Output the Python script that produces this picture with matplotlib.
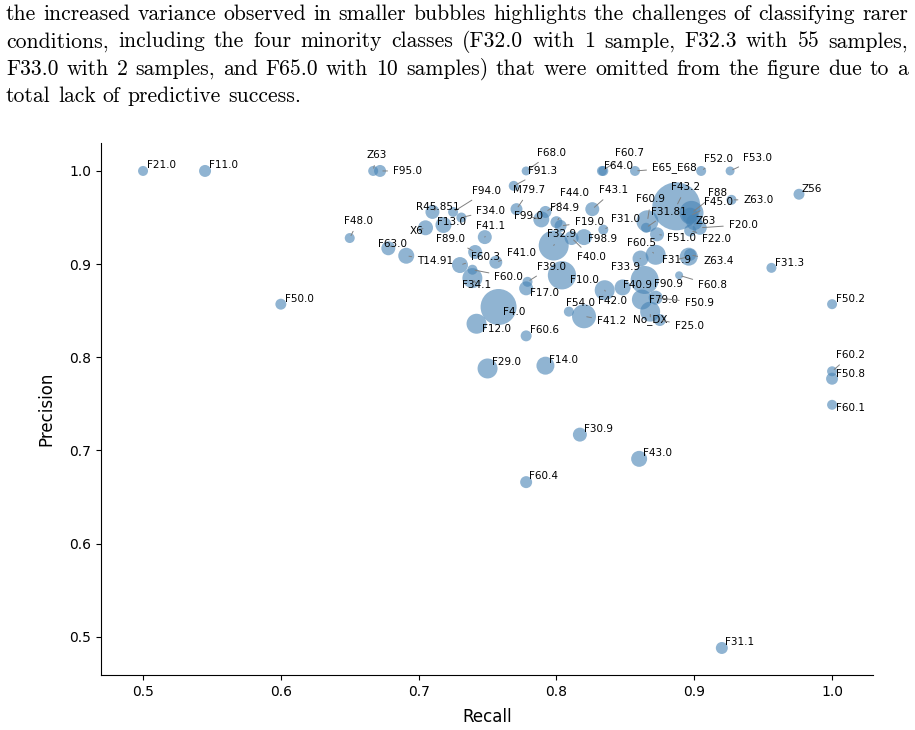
import numpy as np
import matplotlib
matplotlib.use("Agg")
import matplotlib.pyplot as plt

# class labels, recall / precision per class and (approximate) support
labels = ["F21.0", "F11.0", "Z63", "F95.0", "F68.0", "F91.3", "F60.7", "F64.0", "E65_E68", "F52.0",
          "F53.0", "F94.0", "M79.7", "F44.0", "F43.1", "F43.2", "F88", "F45.0", "Z63.0", "Z56",
          "R45.851", "F34.0", "F84.9", "F60.9", "F31.81", "F99.0", "F13.0", "F19.0", "F31.0", "X6",
          "F41.1", "F48.0", "F63.0", "T14.91", "F89.0", "F60.3", "F41.0", "F60.0", "F34.1", "F39.0",
          "F17.0", "F10.0", "F32.9", "F40.0", "F98.9", "F60.5", "F33.9", "F51.0", "F22.0", "Z63",
          "F20.0", "F31.9", "Z63.4", "F60.8", "F31.3", "F40.9", "F90.9", "F42.0", "F79.0", "F50.9",
          "No_DX", "F25.0", "F54.0", "F41.2", "F4.0", "F12.0", "F60.6", "F50.0", "F50.2", "F60.2",
          "F50.8", "F60.1", "F29.0", "F14.0", "F30.9", "F43.0", "F60.4", "F31.1"]

recall = [0.500, 0.545, 0.667, 0.672, 0.778, 0.769, 0.833, 0.834, 0.857, 0.905,
          0.926, 0.725, 0.771, 0.792, 0.826, 0.887, 0.898, 0.897, 0.927, 0.976,
          0.710, 0.731, 0.800, 0.866, 0.865, 0.789, 0.718, 0.803, 0.834, 0.705,
          0.748, 0.650, 0.678, 0.691, 0.741, 0.730, 0.756, 0.739, 0.739, 0.779,
          0.778, 0.804, 0.798, 0.811, 0.820, 0.872, 0.861, 0.873, 0.897, 0.900,
          0.904, 0.896, 0.897, 0.889, 0.956, 0.848, 0.864, 0.835, 0.862, 0.872,
          0.868, 0.875, 0.809, 0.820, 0.758, 0.742, 0.778, 0.600, 1.000, 1.000,
          1.000, 1.000, 0.750, 0.792, 0.817, 0.860, 0.778, 0.920]

precision = [1.000, 1.000, 1.000, 1.000, 1.000, 0.984, 1.000, 1.000, 1.000, 1.000,
             1.000, 0.956, 0.959, 0.956, 0.959, 0.962, 0.955, 0.952, 0.969, 0.975,
             0.956, 0.950, 0.945, 0.946, 0.939, 0.948, 0.942, 0.941, 0.937, 0.939,
             0.929, 0.928, 0.917, 0.909, 0.913, 0.899, 0.902, 0.894, 0.885, 0.881,
             0.874, 0.888, 0.920, 0.928, 0.929, 0.910, 0.906, 0.932, 0.936, 0.945,
             0.939, 0.908, 0.910, 0.888, 0.896, 0.875, 0.883, 0.872, 0.862, 0.864,
             0.849, 0.840, 0.849, 0.844, 0.854, 0.836, 0.823, 0.857, 0.857, 0.785,
             0.777, 0.749, 0.788, 0.791, 0.717, 0.691, 0.666, 0.488]

support = [25, 36, 25, 36, 20, 25, 25, 25, 25, 25,
           20, 25, 36, 36, 49, 576, 144, 64, 25, 30,
           49, 25, 36, 121, 25, 64, 64, 36, 25, 56,
           49, 25, 49, 64, 49, 64, 42, 25, 100, 25,
           49, 200, 225, 49, 64, 100, 64, 49, 36, 64,
           49, 81, 36, 16, 25, 64, 196, 100, 100, 49,
           100, 36, 25, 144, 324, 100, 30, 30, 25, 25,
           36, 25, 100, 81, 49, 64, 36, 36]

# where each label sits relative to its bubble (pixels)
label_offsets = [(4, 6), (4, 6), (-7, 16), (13, 0), (11, 18), (14, 15), (13, 18), (1, 5), (17, 3), (3, 12),
                 (13, 13), (19, 21), (-3, 19), (15, 19), (7, 19), (-5, 19), (16, 20), (14, 14), (12, 0), (3, 5),
                 (-16, 5), (15, 7), (-6, 14), (-11, 22), (5, 16), (-27, 3), (-6, 3), (14, 4), (8, 11), (-16, -3),
                 (-9, 11), (-6, 17), (-10, 4), (11, -5), (-39, 13), (11, 8), (11, 9), (22, -7), (-10, -7), (9, 15),
                 (4, -5), (8, -5), (-7, 11), (5, -19), (4, -2), (-29, 12), (-30, -8), (10, -4), (12, -8), (1, 1),
                 (29, 3), (-27, -3), (13, -6), (19, -10), (4, 5), (0, 2), (9, -4), (-7, -11), (7, 0), (29, -5),
                 (-17, -8), (15, -6), (-3, 9), (13, -5), (4, -5), (5, -5), (4, 6), (4, 5), (4, 5), (4, 16),
                 (4, 5), (4, -3), (4, 6), (4, 6), (4, 6), (4, 6), (3, 6), (3, 6)]

paragraph = [
    "the increased variance observed in smaller bubbles highlights the challenges of classifying rarer",
    "conditions, including the four minority classes (F32.0 with 1 sample, F32.3 with 55 samples,",
    "F33.0 with 2 samples, and F65.0 with 10 samples) that were omitted from the figure due to a",
    "total lack of predictive success.",
]

W, H = 915, 730
fig = plt.figure(figsize=(W / 100, H / 100), dpi=100)
ax = fig.add_axes([101 / W, 1 - 675 / H, (873 - 101) / W, (675 - 143) / H])

ax.scatter(recall, precision, s=np.array(support) * 2.07, color="steelblue", alpha=0.6, linewidths=0)

for name, x, y, (dx, dy) in zip(labels, recall, precision, label_offsets):
    arrow = None
    if np.hypot(dx, dy) > 10:
        arrow = dict(arrowstyle="-", color="grey", lw=0.7)
    ax.annotate(name, (x, y), xytext=(dx, dy), textcoords="offset pixels",
                fontsize=7.5, ha="left", va="center", arrowprops=arrow)

ax.set_xlim(0.4695, 1.0297)
ax.set_ylim(0.459, 1.030)
ax.set_xticks([0.5, 0.6, 0.7, 0.8, 0.9, 1.0])
ax.set_yticks([0.5, 0.6, 0.7, 0.8, 0.9, 1.0])
ax.tick_params(labelsize=10)
ax.set_xlabel("Recall", fontsize=12, labelpad=7)
ax.set_ylabel("Precision", fontsize=12, labelpad=10)
ax.spines[["top", "right"]].set_visible(False)

# paragraph above the figure, justified like the source page
fs = 15.6
baselines = [20, 47.3, 74.7, 102]
fig.canvas.draw()
renderer = fig.canvas.get_renderer()
x0, x1 = 6, 908
space = 0.333 * fs * 100 / 72
for i, line in enumerate(paragraph):
    words = line.split()
    arts = [fig.text(0, 1 - baselines[i] / H, w, fontsize=fs, family="cmr10", va="baseline") for w in words]
    widths = [a.get_window_extent(renderer).width for a in arts]
    if i < len(paragraph) - 1:
        gap = (x1 - x0 - sum(widths)) / (len(words) - 1)
    else:
        gap = space
    x = x0
    for a, w in zip(arts, widths):
        a.set_x(x / W)
        x += w + gap

fig.savefig("out.png", dpi=100)
